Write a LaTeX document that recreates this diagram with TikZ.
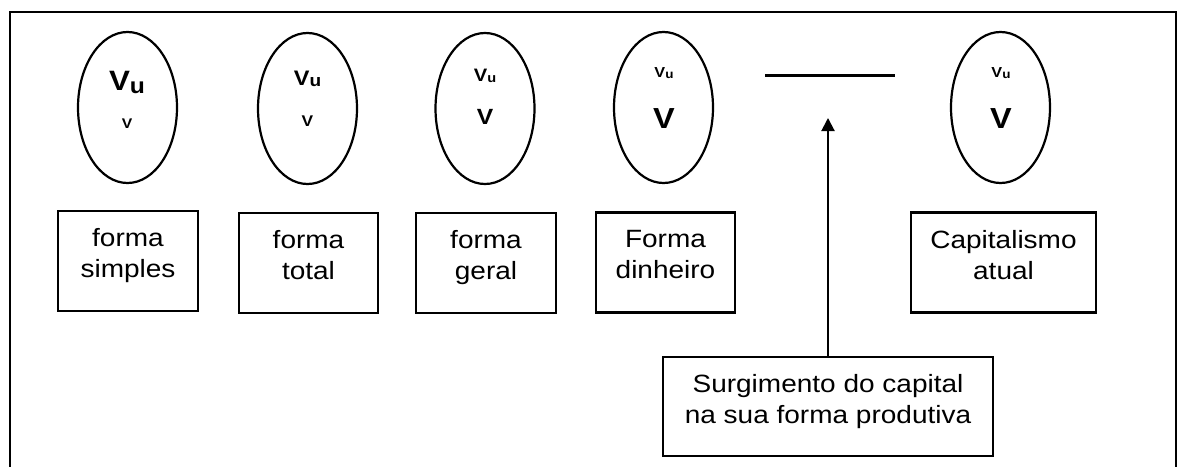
\documentclass[tikz,border=0pt]{standalone}
\usepackage{fontspec}
\setmainfont{Liberation Sans}[FakeStretch=1.12]
\usetikzlibrary{shapes.geometric,arrows.meta,calc}

\tikzset{
  stage/.style={draw, line width=2.2pt, ellipse, minimum width=99pt, minimum height=151pt, inner sep=0pt},
  formbox/.style={draw, line width=2.2pt, rectangle, minimum height=100pt, inner sep=0pt},
  boxtext/.style={anchor=north, align=center, inner sep=0pt,
    font=\fontsize{25}{31}\selectfont},
  vtext/.style={anchor=base, inner sep=0pt, font=\bfseries},
  rule/.style={line width=2.2pt},
  arrowline/.style={line width=2pt, -{Triangle[width=13pt,length=13pt]}}
}

% value-in-use over value, with the given sizes
\newcommand{\vuse}[3]{{\fontsize{#1}{#1}\selectfont V}{\fontsize{#2}{#2}\selectfont\raisebox{#3}{u}}}
\newcommand{\vval}[1]{{\fontsize{#1}{#1}\selectfont V}}

\begin{document}
\begin{tikzpicture}[x=1pt, y=-1pt]
\useasboundingbox (0,0) rectangle (1177,466);

% outer frame, open at the bottom
\draw[line width=2.7pt] (10,480) -- (10,12) -- (1176,12) -- (1176,480);

% stages of the value form
\node[stage] (e1) at (127.5,107.5) {};
\node[stage] (e2) at (307.5,108.5) {};
\node[stage] (e3) at (485,108.5) {};
\node[stage] (e4) at (663.5,107.5) {};
\node[stage] (e5) at (1000.5,107.5) {};

\node[vtext] (e1u) at (127,90) {\vuse{28}{22}{-3pt}};
\node[vtext] (e1v) at (127,128) {\vval{14}};
\node[vtext] (e2u) at (307.5,85) {\vuse{21}{17}{-1pt}};
\node[vtext] (e2v) at (307.5,126) {\vval{15.5}};
\node[vtext] (e3u) at (485,81) {\vuse{18}{13}{-1pt}};
\node[vtext] (e3v) at (485,124) {\vval{22}};
\node[vtext] (e4u) at (664,77) {\vuse{14.5}{12}{-1pt}};
\node[vtext] (e4v) at (664,128) {\vval{29}};
\node[vtext] (e5u) at (1001,77) {\vuse{14.5}{12}{-1pt}};
\node[vtext] (e5v) at (1001,128) {\vval{29}};

% blank stage
\coordinate (ga) at (765,75.5);
\coordinate (gb) at (895,75.5);
\draw[rule] (ga) -- (gb);

% names of the forms
\node[formbox, minimum width=140pt] (b1) at (128,261) {};
\node[formbox, minimum width=139pt] (b2) at (308.5,263) {};
\node[formbox, minimum width=140pt] (b3) at (486,263) {};
\node[formbox, minimum width=139pt] (b4) at (665.5,262.5) {};
\node[formbox, minimum width=185pt] (b5) at (1003.5,262.5) {};
\node[formbox, minimum width=330pt, minimum height=99pt] (b6) at (828,406.5) {};

\node[boxtext] (t1) at ([yshift=-18.5pt]b1.north) {forma\\simples};
\node[boxtext] (t2) at ([yshift=-18.5pt]b2.north) {forma\\total};
\node[boxtext] (t3) at ([yshift=-18.5pt]b3.north) {forma\\geral};
\node[boxtext] (t4) at ([yshift=-18.5pt]b4.north) {Forma\\dinheiro};
\node[boxtext] (t5) at ([yshift=-18.5pt]b5.north) {Capitalismo\\atual};
\node[boxtext] (t6) at ([yshift=-18.5pt]b6.north) {Surgimento do capital\\na sua forma produtiva};

% pointer to the blank stage
\coordinate (tip) at (828,118);
\draw[arrowline] (b6.north) -- (tip);
\end{tikzpicture}
\end{document}
